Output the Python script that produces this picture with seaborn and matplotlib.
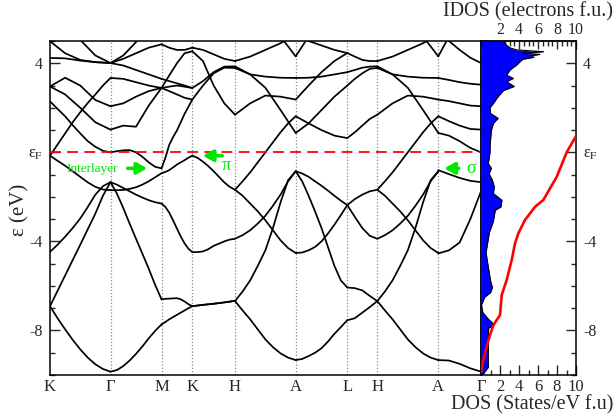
import numpy as np
import pandas as pd
import matplotlib
matplotlib.use("Agg")
import matplotlib.pyplot as plt
import seaborn as sns
from matplotlib.ticker import MultipleLocator, FixedLocator, FixedFormatter

sns.set_theme(style="white")
plt.rcParams["font.family"] = ["Liberation Serif", "DejaVu Serif"]
plt.rcParams["mathtext.fontset"] = "stix"

# ---------------- data ----------------
# high-symmetry path (k distance as drawn) and labels
kpath_labels = ["K", "Γ", "M", "K", "H", "A", "L", "H", "A", "Γ"]
kpath_pos = [0.0, 60.5, 111.5, 142.3, 185.0, 245.7, 297.3, 327.3, 388.3, 431.0]

# each curve: energies (eV) read at equally spaced k along its segment
seg_K_G = [
    [-6.91, -7.45, -7.95, -8.42, -8.85, -9.22, -9.52, -9.73, -9.85],
    [-6.91, -6.22, -5.53, -4.84, -4.15, -3.45, -2.75, -1.95, -1.34],
    [-4.47, -4.15, -3.79, -3.40, -2.97, -2.45, -1.90, -1.52, -1.34],
    [-0.15, -0.38, -0.60, -0.85, -1.10, -1.35, -1.55, -1.67, -1.70],
    [2.29, 1.95, 1.62, 1.22, 0.85, 0.50, 0.25, 0.07, 0.00],
    [-0.15, 0.35, 0.85, 1.35, 1.80, 2.22, 2.60, 3.00, 3.34],
    [2.96, 3.35, 3.00, 2.35, 2.07],
    [2.96, 2.60, 2.00, 1.35, 1.02],
    [4.24, 4.22, 4.12, 4.05, 4.01],
    [4.99, 4.45, 4.15, 4.05, 4.01],
    [7.50, 6.30, 5.05, 4.35, 4.01],
]
seg_G_M = [
    [-9.85, -9.78, -9.60, -9.35, -9.05, -8.72, -8.35, -8.02, -7.73],
    [-1.34, -1.85, -2.50, -3.20, -3.88, -4.55, -5.23, -5.95, -6.60],
    [-1.34, -1.45, -1.60, -1.75, -1.90, -2.03, -2.15, -2.24, -2.30],
    [-1.70, -1.70, -1.69, -1.64, -1.57, -1.45, -1.30, -1.12, -0.94],
    [0.00, 0.05, 0.09, 0.10, 0.00, -0.20, -0.45, -0.65, -0.72],
    [1.02, 1.20, 1.15, 2.10, 2.89],
    [2.07, 2.20, 2.50, 2.75, 2.89],
    [3.34, 3.30, 3.15, 3.00, 2.89],
    [4.01, 3.90, 3.70, 3.50, 3.30],
    [4.01, 4.20, 4.45, 4.70, 4.85],
    [4.01, 4.35, 4.95, 5.80, 6.80],
]
seg_M_K = [
    [-7.73, -7.62, -7.50, -7.40, -7.30, -7.20, -7.10, -7.00, -6.91],
    [-6.60, -6.58, -6.57, -6.56, -6.55, -6.60, -6.70, -6.82, -6.91],
    [-2.30, -2.45, -2.71, -3.05, -3.42, -3.78, -4.09, -4.33, -4.48],
    [-0.94, -0.88, -0.80, -0.68, -0.55, -0.45, -0.35, -0.24, -0.15],
    [-0.72, -0.25, 0.33, 0.68, 0.98, 1.35, 1.73, 2.05, 2.37],
    [2.89, 3.45, 4.00, 4.45, 4.54],
    [2.89, 2.75, 2.60, 2.45, 2.37],
    [2.89, 2.95, 3.00, 2.95, 2.89],
    [3.30, 3.20, 3.10, 3.00, 2.89],
    [4.85, 4.70, 4.60, 4.60, 4.70],
]
seg_K_H = [
    [-6.91, -6.85, -6.80, -6.74, -6.67],
    [-6.91, -6.85, -6.80, -6.74, -6.67],
    [-4.48, -4.48, -4.45, -4.35, -4.20, -4.10, -4.00, -3.92, -3.88],
    [-0.15, -0.25, -0.42, -0.62, -0.85, -1.10, -1.35, -1.55, -1.68],
    [4.54, 4.10, 3.00, 2.20, 1.69],
    [2.37, 3.00, 3.55, 3.80, 3.79],
    [2.89, 3.20, 3.60, 3.85, 3.86],
    [4.70, 4.60, 4.40, 4.20, 4.10],
]
seg_H_A = [
    [-6.68, -7.10, -7.50, -7.95, -8.40, -8.75, -9.03, -9.22, -9.33],
    [-6.68, -6.25, -5.75, -5.10, -4.40, -3.40, -2.25, -1.25, -0.85],
    [-3.88, -3.72, -3.50, -3.20, -2.85, -2.40, -1.90, -1.30, -0.85],
    [-1.68, -1.95, -2.30, -2.65, -3.05, -3.50, -3.95, -4.30, -4.52],
    [-1.68, -1.30, -0.90, -0.45, 0.00, 0.45, 0.90, 1.30, 1.62],
    [1.69, 2.20, 2.55, 2.50, 2.37],
    [3.79, 3.50, 2.90, 1.90, 0.87],
    [3.86, 3.50, 3.40, 3.35, 3.34],
    [4.10, 4.30, 4.60, 4.90, 5.30],
    [8.00, 7.00, 6.20, 5.20, 4.31],
]
seg_A_L = [
    [-9.33, -9.28, -9.15, -9.00, -8.80, -8.50, -8.15, -7.85, -7.54],
    [-0.85, -1.30, -1.95, -2.65, -3.40, -4.25, -5.10, -5.75, -6.07],
    [-0.85, -0.95, -1.10, -1.30, -1.50, -1.72, -1.95, -2.17, -2.37],
    [-4.52, -4.50, -4.40, -4.25, -4.00, -3.65, -3.25, -2.82, -2.37],
    [0.87, 1.30, 1.90, 2.50, 3.00],
    [1.62, 1.30, 1.00, 0.75, 0.64],
    [2.37, 3.00, 3.60, 4.10, 4.46],
    [3.34, 3.35, 3.40, 3.50, 3.60],
    [4.31, 5.20, 6.20, 7.00, 8.00],
    [5.30, 5.00, 4.80, 4.60, 4.46],
]
seg_L_H = [
    [-7.54, -7.45, -7.20, -6.95, -6.68],
    [-6.07, -6.10, -6.20, -6.45, -6.68],
    [-2.37, -2.90, -3.40, -3.75, -3.88],
    [-2.37, -2.10, -1.90, -1.75, -1.68],
    [0.64, 0.90, 1.20, 1.50, 1.69],
    [3.00, 3.30, 3.55, 3.75, 3.79],
    [3.60, 3.70, 3.80, 3.85, 3.86],
    [4.46, 4.30, 4.15, 4.10, 4.10],
]
seg_A_G = [
    [-9.33, -9.35, -9.50, -9.70, -9.85],
    [-0.80, -0.98, -1.15, -1.28, -1.34],
    [-4.54, -4.40, -4.05, -3.00, -1.75],
    [0.87, 0.75, 0.50, 0.20, 0.00],
    [1.62, 1.40, 1.20, 1.05, 1.02],
    [2.37, 2.30, 2.20, 2.10, 2.07],
    [3.34, 3.25, 3.15, 3.08, 3.04],
    [4.31, 5.20, 6.20, 7.00, 8.00],
    [5.30, 5.00, 4.60, 4.25, 4.01],
]
segments = [seg_K_G, seg_G_M, seg_M_K, seg_K_H, seg_H_A,
            seg_A_L, seg_L_H, seg_H_A, seg_A_G]

dos_E = [5.0, 4.85, 4.7, 4.6, 4.52, 4.45, 4.4, 4.33, 4.27, 4.18, 4.07, 3.92,
         3.7, 3.47, 3.32, 3.17, 2.96, 2.77, 2.5, 2.2, 2.0, 1.75, 1.53, 1.3,
         1.0, 0.55, 0.25, 0.0, -0.5, -0.72, -0.95, -1.25, -1.55, -1.85,
         -2.15, -2.45, -2.6, -3.1, -3.6, -4.5, -5.1, -5.75, -6.07, -6.3,
         -6.5, -6.85, -7.2, -7.5, -7.74, -7.9, -8.6, -9.2, -9.65, -9.95, -10.0]
dos_val = [2.35, 2.6, 3.0, 3.75, 6.6, 4.4, 6.2, 5.2, 5.6, 4.4, 4.1, 3.75,
           3.05, 2.7, 3.4, 2.7, 3.5, 2.35, 1.8, 1.3, 0.95, 1.0, 1.8, 1.3,
           1.1, 1.0, 0.95, 0.95, 0.77, 1.1, 0.85, 1.2, 1.4, 1.3,
           2.2, 2.1, 1.5, 1.3, 0.88, 0.53, 0.75, 1.0, 1.2, 1.0,
           0.4, 0.05, 0.2, 0.8, 1.4, 0.8, 0.77, 0.77, 0.77, 0.25, 0.0]

idos_E = [-9.86, -9.33, -8.44, -7.76, -7.31, -6.41, -5.74, -4.84, -4.09,
          -3.64, -3.04, -2.44, -2.14, -1.1, 0.0, 0.73]
idos_val = [0.0, 0.25, 0.77, 1.3, 2.0, 2.18, 2.7, 3.23, 3.58,
            3.93, 4.63, 5.7, 6.56, 7.97, 9.02, 10.0]

energy_ticks = [-8, -4, 0, 4]
energy_ticklabels = ["-8", "-4", "ε$_{\\mathrm{F}}$", "4"]
dos_ticks = [2, 4, 6, 8, 10]

# ---------------- long-form table ----------------
rows = []
for s, curves in enumerate(segments):
    k0, k1 = kpath_pos[s], kpath_pos[s + 1]
    for c, energies in enumerate(curves):
        n = len(energies)
        for i, e in enumerate(energies):
            rows.append((f"{s}_{c}", k0 + (k1 - k0) * i / (n - 1), e))
bands = pd.DataFrame(rows, columns=["curve", "k", "E"])
dos_df = pd.DataFrame({"E": dos_E, "dos": dos_val})
idos_df = pd.DataFrame({"E": idos_E, "idos": idos_val})

# ---------------- figure ----------------
W, H = 615, 417
fig = plt.figure(figsize=(W / 100, H / 100), dpi=100)
ax = fig.add_axes([50 / W, 42 / H, 431 / W, 334 / H])
ax2 = fig.add_axes([481 / W, 42 / H, 95 / W, 334 / H])

for p in kpath_pos[1:-1]:
    ax.axvline(p, color="#8a8a8a", ls=(0, (1, 1.6)), lw=0.9, zorder=0)

sns.lineplot(data=bands, x="k", y="E", units="curve", estimator=None,
             sort=False, color="black", linewidth=1.25, ax=ax, legend=False)
ax.axhline(0, color="red", ls=(0, (6, 3.5)), lw=1.3, zorder=3)

ax.set_xlim(kpath_pos[0], kpath_pos[-1])
ax.set_ylim(-10, 5)
ax.set_xticks(kpath_pos)
ax.set_xticklabels(kpath_labels, fontsize=12)
ax.tick_params(axis="x", length=0, pad=3)
ax.yaxis.set_major_locator(FixedLocator(energy_ticks))
ax.yaxis.set_major_formatter(FixedFormatter(energy_ticklabels))
ax.yaxis.set_minor_locator(MultipleLocator(1))
ax.tick_params(axis="y", which="major", direction="in", length=7, width=1,
               labelsize=11.5, pad=5, left=True)
ax.tick_params(axis="y", which="minor", direction="in", length=3.6, width=1,
               left=True)
ax.set_xlabel("")
ax.set_ylabel("")
for sp in ax.spines.values():
    sp.set_color("black")
    sp.set_linewidth(1.1)

green = "#00e600"
ax.annotate("", xy=(100, -0.72), xytext=(75, -0.72),
            arrowprops=dict(arrowstyle="-|>,head_length=0.5,head_width=0.28",
                            color=green, lw=2.6))
ax.text(42.5, -0.74, "Interlayer", color=green, fontsize=9.5,
        ha="center", va="center")
ax.annotate("", xy=(150, -0.15), xytext=(175, -0.15),
            arrowprops=dict(arrowstyle="-|>,head_length=0.5,head_width=0.28",
                            color=green, lw=2.6))
ax.text(176.5, -0.6, "π", color=green, fontsize=13, ha="center", va="center")
ax.annotate("", xy=(391.5, -0.72), xytext=(411.5, -0.72),
            arrowprops=dict(arrowstyle="-|>,head_length=0.5,head_width=0.28",
                            color=green, lw=2.6))
ax.text(421.5, -0.72, "σ", color=green, fontsize=13, ha="center", va="center")

# DOS panel
ax2.fill_betweenx(dos_df["E"], 0, dos_df["dos"], color="#0000ff", lw=0, zorder=1)
sns.lineplot(data=dos_df, x="dos", y="E", sort=False, estimator=None,
             color="black", linewidth=0.8, ax=ax2, zorder=2)
sns.lineplot(data=idos_df, x="idos", y="E", sort=False, estimator=None,
             color="red", linewidth=1.9, ax=ax2, zorder=3)
ax2.set_xlim(0, 10)
ax2.set_ylim(-10, 5)
ax2.set_xlabel("")
ax2.set_ylabel("")
ax2.set_xticks(dos_ticks)
ax2.set_xticklabels([str(t) for t in dos_ticks])
ax2.xaxis.set_minor_locator(MultipleLocator(1))
ax2.tick_params(axis="x", which="major", direction="in", length=7, width=1,
                labelsize=12, pad=3, bottom=True, top=False)
ax2.tick_params(axis="x", which="minor", direction="in", length=3.6, width=1,
                bottom=True, top=False)
sec = ax2.secondary_xaxis("top")
sec.set_xticks(dos_ticks)
sec.set_xticklabels([str(t) for t in dos_ticks])
sec.xaxis.set_minor_locator(MultipleLocator(0.5))
sec.tick_params(axis="x", which="major", direction="in", length=6, width=1,
                labelsize=11.5, pad=2)
sec.tick_params(axis="x", which="minor", direction="in", length=3.6, width=1)
sec.spines["top"].set_linewidth(1.1)
ax2.yaxis.set_major_locator(FixedLocator(energy_ticks))
ax2.yaxis.set_major_formatter(FixedFormatter(energy_ticklabels))
ax2.yaxis.set_minor_locator(MultipleLocator(1))
ax2.tick_params(axis="y", which="both", direction="in", left=False, right=True,
                labelleft=False, labelright=True)
ax2.tick_params(axis="y", which="major", length=7, width=1, labelsize=11.5, pad=5)
ax2.tick_params(axis="y", which="minor", length=3.6, width=1)
for sp in ax2.spines.values():
    sp.set_color("black")
    sp.set_linewidth(1.1)

fig.text(20 / W, 1 - 210 / H, "ε (eV)", rotation=90, fontsize=15,
         ha="center", va="center")
fig.text(613 / W, 1 - 12 / H, "IDOS (electrons f.u.)", fontsize=14.5,
         ha="right", va="center")
fig.text(613 / W, 1 - 405 / H, "DOS (States/eV f.u)", fontsize=14.5,
         ha="right", va="center")

fig.savefig("out.png", dpi=100)
